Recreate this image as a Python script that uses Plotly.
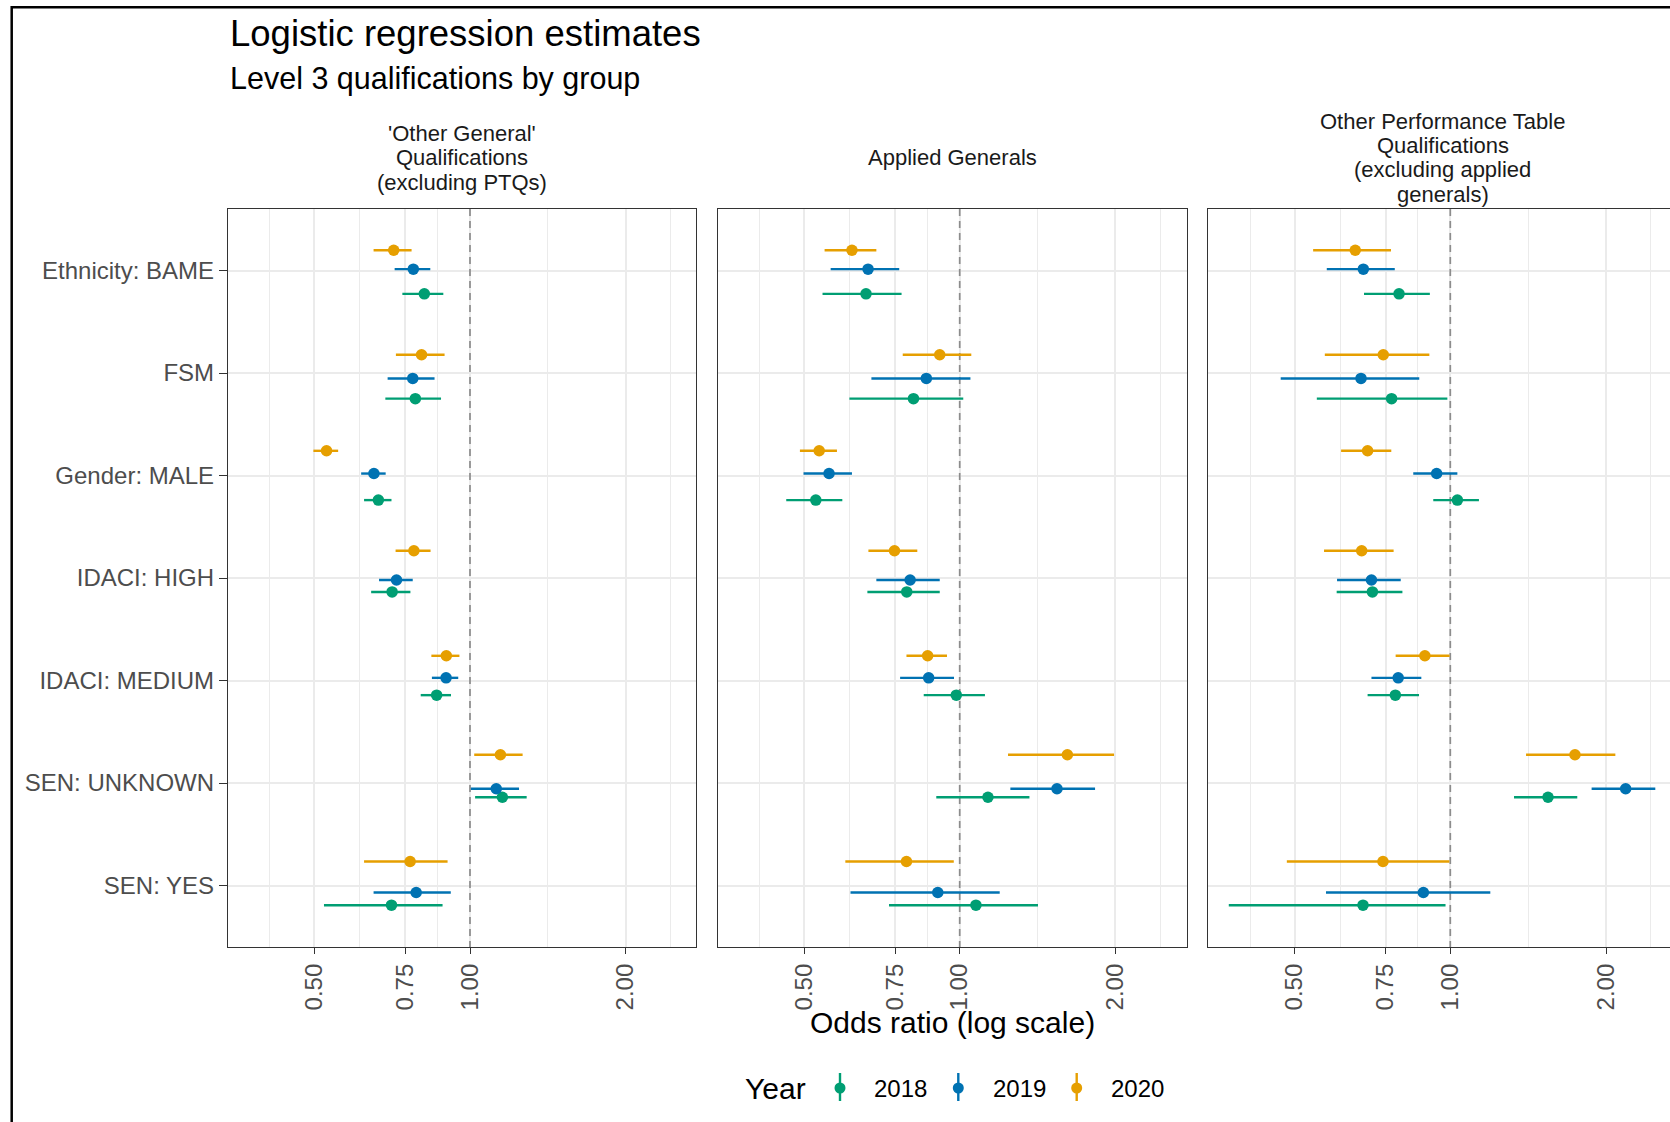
import math
import plotly.graph_objects as go

# ---------------- data ----------------
CATEGORIES = ["Ethnicity: BAME", "FSM", "Gender: MALE", "IDACI: HIGH",
              "IDACI: MEDIUM", "SEN: UNKNOWN", "SEN: YES"]
YEARS = ["2018", "2019", "2020"]
PANEL_TITLES = [
    ["'Other General'", "Qualifications", "(excluding PTQs)"],
    ["Applied Generals"],
    ["Other Performance Table", "Qualifications", "(excluding applied", "generals)"],
]

# Panel 1: 'Other General' Qualifications
OG_EST = {"2018": [0.816, 0.784, 0.665, 0.707, 0.862, 1.155, 0.705],
          "2019": [0.777, 0.775, 0.652, 0.721, 0.899, 1.124, 0.787],
          "2020": [0.712, 0.806, 0.528, 0.779, 0.900, 1.145, 0.766]}
OG_LO = {"2018": [0.740, 0.686, 0.624, 0.644, 0.803, 1.023, 0.522],
         "2019": [0.715, 0.693, 0.616, 0.667, 0.844, 1.004, 0.651],
         "2020": [0.651, 0.719, 0.498, 0.718, 0.842, 1.019, 0.624]}
OG_HI = {"2018": [0.888, 0.879, 0.705, 0.767, 0.919, 1.287, 0.885],
         "2019": [0.838, 0.854, 0.687, 0.775, 0.949, 1.244, 0.918],
         "2020": [0.771, 0.893, 0.556, 0.839, 0.954, 1.264, 0.905]}

# Panel 2: Applied Generals
AG_EST = {"2018": [0.659, 0.814, 0.527, 0.790, 0.985, 1.134, 1.075],
          "2019": [0.665, 0.862, 0.559, 0.802, 0.871, 1.542, 0.907],
          "2020": [0.619, 0.915, 0.535, 0.748, 0.867, 1.615, 0.789]}
AG_LO = {"2018": [0.543, 0.612, 0.462, 0.663, 0.852, 0.901, 0.730],
         "2019": [0.563, 0.675, 0.499, 0.690, 0.767, 1.253, 0.615],
         "2020": [0.548, 0.776, 0.491, 0.666, 0.789, 1.240, 0.601]}
AG_HI = {"2018": [0.772, 1.016, 0.593, 0.915, 1.119, 1.364, 1.417],
         "2019": [0.764, 1.049, 0.619, 0.915, 0.975, 1.827, 1.195],
         "2020": [0.690, 1.053, 0.579, 0.828, 0.945, 1.988, 0.974]}

# Panel 3: Other Performance Table Qualifications
PT_EST = {"2018": [0.796, 0.770, 1.032, 0.707, 0.783, 1.545, 0.678],
          "2019": [0.679, 0.672, 0.941, 0.704, 0.793, 2.183, 0.887],
          "2020": [0.655, 0.742, 0.692, 0.674, 0.893, 1.742, 0.741]}
PT_LO = {"2018": [0.681, 0.552, 0.927, 0.603, 0.692, 1.328, 0.373],
         "2019": [0.577, 0.470, 0.848, 0.604, 0.704, 1.876, 0.575],
         "2020": [0.543, 0.572, 0.615, 0.570, 0.784, 1.401, 0.483]}
PT_HI = {"2018": [0.913, 0.987, 1.136, 0.808, 0.870, 1.760, 0.979],
         "2019": [0.781, 0.871, 1.032, 0.802, 0.879, 2.491, 1.195],
         "2020": [0.768, 0.911, 0.769, 0.777, 0.997, 2.085, 0.996]}

# vertical jitter of each year's point within a category row (category units)
JITTER = {"2018": [0.228, 0.250, 0.240, 0.136, 0.143, 0.139, 0.192],
          "2019": [-0.013, 0.053, -0.019, 0.019, -0.026, 0.056, 0.068],
          "2020": [-0.198, -0.178, -0.241, -0.266, -0.241, -0.276, -0.234]}

X_TICKS = [0.5, 0.75, 1.0, 2.0]
X_TICK_LABELS = ["0.50", "0.75", "1.00", "2.00"]
X_MINOR = [0.41, 0.6124, 0.866, 1.414, 2.44]
X_LO, X_HI = 0.3405, 2.735
REF_ODDS = 1.0
Y_LO, Y_HI = 0.4, 7.6

COLORS = {"2018": "#009E73", "2019": "#0072B2", "2020": "#E69F00"}

# ---------------- layout helpers ----------------
W, H = 1670, 1122
FONT = "Liberation Sans, Arial, sans-serif"


def px(x):
    return x / W


def py(y):
    return 1 - y / H


PANEL_PX = [(228, 696), (717.7, 1186.7), (1208.3, 1670)]
PANEL_CENTER_PX = [462, 952.2, 1442.8]
Y_TOP, Y_BOT = 209, 947
ln_lo, ln_hi = math.log(X_LO), math.log(X_HI)
per_px = (ln_hi - ln_lo) / (PANEL_PX[0][1] - PANEL_PX[0][0])

panels = [(OG_EST, OG_LO, OG_HI), (AG_EST, AG_LO, AG_HI), (PT_EST, PT_LO, PT_HI)]

fig = go.Figure()
layout_axes = {}
shapes = []
annotations = []

for i, (est, lo, hi) in enumerate(panels):
    sfx = "" if i == 0 else str(i + 1)

    # reference line at odds ratio 1 (drawn first so it sits under the points)
    fig.add_trace(go.Scatter(
        x=[REF_ODDS, REF_ODDS], y=[Y_LO, Y_HI], mode="lines",
        line=dict(color="#8C8C8C", width=1.7, dash="7px,5px"),
        xaxis="x" + sfx, yaxis="y" + sfx, showlegend=False, hoverinfo="skip"))

    for yr in YEARS:
        e, l, h = est[yr], lo[yr], hi[yr]
        ys = [k + 1 + JITTER[yr][k] for k in range(len(CATEGORIES))]
        fig.add_trace(go.Scatter(
            x=e, y=ys, mode="markers",
            marker=dict(color=COLORS[yr], size=11.5, line=dict(width=0)),
            error_x=dict(type="data", symmetric=False,
                         array=[hh - ee for hh, ee in zip(h, e)],
                         arrayminus=[ee - ll for ee, ll in zip(e, l)],
                         color=COLORS[yr], thickness=2.4, width=0),
            xaxis="x" + sfx, yaxis="y" + sfx, name=yr, showlegend=False,
            hovertemplate=yr + ": %{x:.3f}<extra></extra>"))

    a, b = PANEL_PX[i]
    hi_ln = ln_lo + per_px * (b - a)
    layout_axes["xaxis" + sfx] = dict(
        type="log", domain=[px(a), px(b)],
        range=[ln_lo / math.log(10), hi_ln / math.log(10)],
        tickmode="array", tickvals=X_TICKS, ticktext=X_TICK_LABELS,
        tickangle=-90, ticks="outside", ticklen=6, tickwidth=1.2,
        tickcolor="#333333",
        tickfont=dict(size=24, color="#4D4D4D", family=FONT),
        showgrid=True, gridcolor="#EBEBEB", gridwidth=1.6,
        minor=dict(tickmode="array", tickvals=X_MINOR, showgrid=True,
                   gridcolor="#EBEBEB", gridwidth=0.8, ticks=""),
        showline=True, linecolor="#333333", linewidth=1.2, mirror=True,
        zeroline=False, anchor="y" + sfx, automargin=False)
    layout_axes["yaxis" + sfx] = dict(
        domain=[py(Y_BOT), py(Y_TOP)], range=[Y_HI, Y_LO],
        tickmode="array", tickvals=list(range(1, len(CATEGORIES) + 1)),
        ticktext=CATEGORIES, showticklabels=(i == 0),
        ticks="outside" if i == 0 else "", ticklen=8, tickwidth=1.2,
        tickcolor="#333333",
        tickfont=dict(size=24, color="#4D4D4D", family=FONT),
        showgrid=True, gridcolor="#EBEBEB", gridwidth=1.6,
        showline=True, linecolor="#333333", linewidth=1.2, mirror=(i < 2),
        zeroline=False, anchor="x" + sfx, automargin=False)

    # strip titles (one annotation per line)
    lines = PANEL_TITLES[i]
    n = len(lines)
    base_mid = 165.75
    for j, t in enumerate(lines):
        baseline = base_mid + (j - (n - 1) / 2) * 24.5
        annotations.append(dict(
            text=t, xref="paper", yref="paper", x=px(PANEL_CENTER_PX[i]),
            y=py(baseline - 8), xanchor="center", yanchor="middle",
            showarrow=False, font=dict(size=22, color="#1A1A1A", family=FONT)))

# titles
annotations.append(dict(text="Logistic regression estimates", xref="paper",
                        yref="paper", x=px(228), y=py(46.7 - 13),
                        xanchor="left", yanchor="middle", showarrow=False,
                        font=dict(size=36.5, color="#000000", family=FONT)))
annotations.append(dict(text="Level 3 qualifications by group", xref="paper",
                        yref="paper", x=px(228), y=py(89.3 - 11),
                        xanchor="left", yanchor="middle", showarrow=False,
                        font=dict(size=30.5, color="#000000", family=FONT)))
# x-axis title
annotations.append(dict(text="Odds ratio (log scale)", xref="paper",
                        yref="paper", x=px(952.5), y=py(1033.3 - 11),
                        xanchor="center", yanchor="middle", showarrow=False,
                        font=dict(size=30, color="#000000", family=FONT)))

# legend (drawn manually to show point-range keys)
annotations.append(dict(text="Year", xref="paper", yref="paper", x=px(743),
                        y=py(1099.3 - 11), xanchor="left", yanchor="middle",
                        showarrow=False,
                        font=dict(size=30, color="#000000", family=FONT)))
LEG_KEY_X = [840, 958.3, 1076.7]
for k, yr in enumerate(YEARS):
    cx = LEG_KEY_X[k]
    shapes.append(dict(type="line", xref="paper", yref="paper",
                       x0=px(cx), x1=px(cx), y0=py(1073), y1=py(1101),
                       line=dict(color=COLORS[yr], width=2.4)))
    shapes.append(dict(type="circle", xref="paper", yref="paper",
                       x0=px(cx - 5.5), x1=px(cx + 5.5),
                       y0=py(1088 + 5.5), y1=py(1088 - 5.5),
                       fillcolor=COLORS[yr], line=dict(width=0)))
    annotations.append(dict(text=yr, xref="paper", yref="paper",
                            x=px(cx + 32.3), y=py(1097.3 - 8.5),
                            xanchor="left", yanchor="middle", showarrow=False,
                            font=dict(size=24, color="#000000", family=FONT)))

# outer frame
shapes.append(dict(type="rect", xref="paper", yref="paper",
                   x0=px(11.7), x1=1.02, y0=py(7.3), y1=-0.02,
                   line=dict(color="#000000", width=2.5), layer="above"))

fig.update_layout(
    width=W, height=H,
    margin=dict(l=0, r=0, t=0, b=0, pad=0),
    paper_bgcolor="white", plot_bgcolor="white",
    font=dict(family=FONT),
    showlegend=False,
    shapes=shapes, annotations=annotations,
    **layout_axes)

fig.write_html("out.html")
